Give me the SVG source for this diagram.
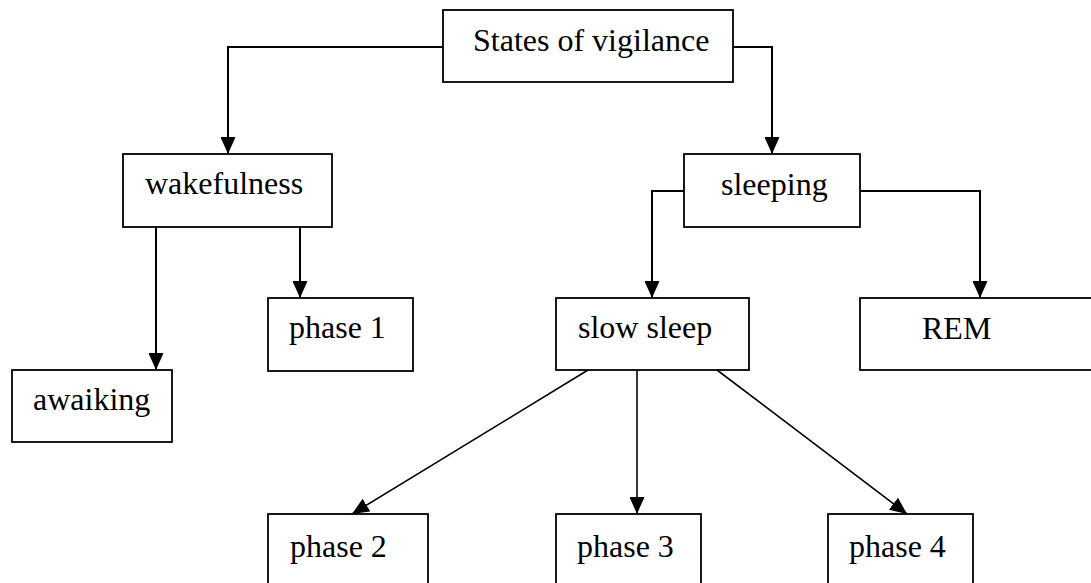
<svg xmlns="http://www.w3.org/2000/svg" width="1091" height="583" viewBox="0 0 1091 583">
<style>
.box{fill:#fff;stroke:#000;stroke-width:1.8}
.lbl{font-family:"Liberation Serif","Times New Roman",serif;font-size:32px;fill:#000}
.con{fill:none;stroke:#000;stroke-width:2}
.diag{fill:none;stroke:#000;stroke-width:1.6}
</style>
<defs>
<marker id="arr" markerUnits="userSpaceOnUse" markerWidth="17" markerHeight="15" refX="17" refY="7.5" orient="auto" viewBox="0 0 17 15">
<path d="M0,0 L17,7.5 L0,15 z" fill="#000"/>
</marker>
</defs>
<g id="connectors">
<path class="con" d="M443,47 H228 V154" marker-end="url(#arr)"/>
<path class="con" d="M733,47 H772 V154" marker-end="url(#arr)"/>
<path class="con" d="M156,227 V370" marker-end="url(#arr)"/>
<path class="con" d="M300,227 V298" marker-end="url(#arr)"/>
<path class="con" d="M684,191 H652 V298" marker-end="url(#arr)"/>
<path class="con" d="M860,191 H980 V298" marker-end="url(#arr)"/>
<path class="diag" d="M588,370 L352,514" marker-end="url(#arr)"/>
<path class="diag" d="M637,370 V514" marker-end="url(#arr)"/>
<path class="diag" d="M717,370 L907,514" marker-end="url(#arr)"/>
</g>
<g id="states">
<rect class="box" x="443" y="10" width="290" height="72"/>
<text class="lbl" x="473" y="51">States of vigilance</text>
</g>
<g id="wakefulness">
<rect class="box" x="123" y="154" width="209" height="73"/>
<text class="lbl" x="145" y="194">wakefulness</text>
</g>
<g id="sleeping">
<rect class="box" x="684" y="154" width="176" height="73"/>
<text class="lbl" x="721" y="195">sleeping</text>
</g>
<g id="awaiking">
<rect class="box" x="12" y="370" width="160" height="72"/>
<text class="lbl" x="33" y="410">awaiking</text>
</g>
<g id="phase1">
<rect class="box" x="268" y="298" width="145" height="73"/>
<text class="lbl" x="289" y="338">phase 1</text>
</g>
<g id="slowsleep">
<rect class="box" x="556" y="298" width="193" height="72"/>
<text class="lbl" x="578" y="338">slow sleep</text>
</g>
<g id="rem">
<rect class="box" x="860" y="298" width="240" height="72"/>
<text class="lbl" x="922" y="339">REM</text>
</g>
<g id="phase2">
<rect class="box" x="268" y="514" width="160" height="80"/>
<text class="lbl" x="290" y="557">phase 2</text>
</g>
<g id="phase3">
<rect class="box" x="556" y="514" width="145" height="80"/>
<text class="lbl" x="577" y="557">phase 3</text>
</g>
<g id="phase4">
<rect class="box" x="828" y="514" width="145" height="80"/>
<text class="lbl" x="849" y="557">phase 4</text>
</g>
</svg>
